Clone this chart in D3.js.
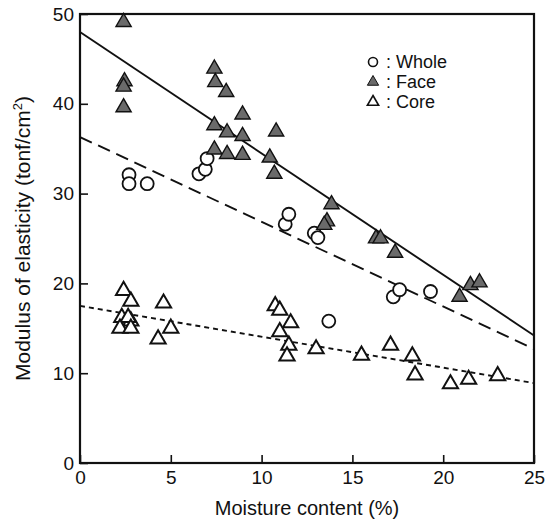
<!DOCTYPE html>
<html>
<head>
<meta charset="utf-8">
<script src="https://cdn.jsdelivr.net/npm/d3@7"></script>
<style>
  body { margin: 0; background: #fff; }
  svg text { font-family: "Liberation Sans", Arial, Helvetica, sans-serif; fill: #111; }
</style>
</head>
<body>
<svg id="chart" width="546" height="525"></svg>
<script>
// values: [moisture %, modulus tonf/cm2]
const wholePts = [
  [2.7, 32.1], [2.7, 31.1], [3.7, 31.1],
  [6.55, 32.2], [6.9, 32.7], [7.0, 33.9],
  [11.3, 26.6], [11.5, 27.7], [12.9, 25.6], [13.1, 25.1],
  [13.7, 15.8], [17.25, 18.5], [17.6, 19.3], [19.3, 19.1]
];
const facePts = [
  [2.4, 49.1], [2.45, 42.5], [2.4, 41.9], [2.4, 39.6],
  [7.4, 43.9], [7.45, 42.4], [8.05, 41.3], [8.95, 38.8],
  [7.4, 37.6], [8.1, 36.8], [8.95, 36.4],
  [7.4, 34.9], [8.1, 34.4], [8.95, 34.3],
  [10.8, 36.9], [10.45, 34.0], [10.7, 32.2],
  [13.85, 28.8], [13.6, 26.9], [13.45, 26.5],
  [16.3, 25.0], [16.55, 25.0], [17.35, 23.4],
  [20.9, 18.5], [21.5, 19.8], [22.0, 20.1]
];
const corePts = [
  [2.4, 19.2], [2.8, 18.0], [2.3, 16.2], [2.8, 15.8], [2.65, 16.2],
  [2.2, 15.0], [2.8, 15.0], [4.6, 17.8], [4.3, 13.8], [5.0, 15.0],
  [10.75, 17.5], [11.0, 17.0], [11.6, 15.6], [11.0, 14.6], [11.5, 13.1],
  [11.4, 11.9], [13.0, 12.7], [15.5, 12.0], [17.1, 13.1], [18.3, 11.9],
  [18.45, 9.8], [20.4, 8.8], [21.4, 9.3], [23.0, 9.7]
];
// fitted lines, end points at x = 0 and x = 25
const faceLine = [[0, 48.0], [25, 14.2]];
const wholeLine = [[0, 36.3], [25, 12.7]];
const coreLine = [[0, 17.5], [25, 8.9]];

const xTicks = [0, 5, 10, 15, 20, 25];
const yTicks = [0, 10, 20, 30, 40, 50];
const legendItems = [
  { key: "whole", label: ": Whole" },
  { key: "face", label: ": Face" },
  { key: "core", label: ": Core" }
];

const svg = d3.select("#chart");
const margin = { left: 80, top: 14, right: 12, bottom: 62 };
const W = 546, H = 525;

const x = d3.scaleLinear().domain([0, 25]).range([margin.left, W - margin.right]);
const y = d3.scaleLinear().domain([0, 50]).range([H - margin.bottom, margin.top]);

// axes with inward ticks
svg.append("g")
  .attr("transform", `translate(0,${y(0)})`)
  .call(d3.axisBottom(x).tickValues(xTicks).tickSizeInner(-8).tickSizeOuter(0).tickPadding(8))
  .call(g => g.select(".domain").remove())
  .call(g => g.selectAll("line").attr("stroke", "#111").attr("stroke-width", 1.6))
  .call(g => g.selectAll("text").attr("font-size", 19).attr("fill", "#111"));

svg.append("g")
  .attr("transform", `translate(${x(0)},0)`)
  .call(d3.axisLeft(y).tickValues(yTicks).tickSizeInner(-8).tickSizeOuter(0).tickPadding(6))
  .call(g => g.select(".domain").remove())
  .call(g => g.selectAll("line").attr("stroke", "#111").attr("stroke-width", 1.6))
  .call(g => g.selectAll("text").attr("font-size", 19).attr("fill", "#111"));

// frame
svg.append("rect")
  .attr("x", x(0)).attr("y", y(50))
  .attr("width", x(25) - x(0)).attr("height", y(0) - y(50))
  .attr("fill", "none").attr("stroke", "#111").attr("stroke-width", 2.2);

// regression lines
const line = d3.line().x(d => x(d[0])).y(d => y(d[1]));
svg.append("path").attr("d", line(faceLine))
  .attr("fill", "none").attr("stroke", "#111").attr("stroke-width", 1.9);
svg.append("path").attr("d", line(wholeLine))
  .attr("fill", "none").attr("stroke", "#111").attr("stroke-width", 1.9)
  .attr("stroke-dasharray", "13,7");
svg.append("path").attr("d", line(coreLine))
  .attr("fill", "none").attr("stroke", "#111").attr("stroke-width", 1.9)
  .attr("stroke-dasharray", "5,4");

// markers
const tri = d3.symbol().type(d3.symbolTriangle).size(100);
const style = {
  whole: s => s.append("circle").attr("r", 6.5).attr("fill", "#fff").attr("stroke", "#111").attr("stroke-width", 1.8),
  face: s => s.append("path").attr("d", tri()).attr("fill", "#6a6a6a").attr("stroke", "#111").attr("stroke-width", 1.4),
  core: s => s.append("path").attr("d", tri()).attr("fill", "#fff").attr("stroke", "#111").attr("stroke-width", 2)
};

function drawPoints(pts, key) {
  const g = svg.append("g").selectAll("g").data(pts).join("g")
    .attr("transform", d => `translate(${x(d[0])},${y(d[1])})`);
  style[key](g);
}
drawPoints(corePts, "core");
drawPoints(wholePts, "whole");
drawPoints(facePts, "face");

// legend
const leg = svg.append("g").attr("transform", "translate(373,62)");
legendItems.forEach((item, i) => {
  const row = leg.append("g").attr("transform", `translate(0,${i * 20})`);
  if (item.key === "whole") {
    row.append("circle").attr("r", 4.5).attr("fill", "#fff").attr("stroke", "#111").attr("stroke-width", 1.6);
  } else {
    row.append("path").attr("d", d3.symbol().type(d3.symbolTriangle).size(55)())
      .attr("fill", item.key === "face" ? "#6a6a6a" : "#fff")
      .attr("stroke", "#111").attr("stroke-width", item.key === "face" ? 1 : 1.6);
  }
  row.append("text").attr("x", 13).attr("dy", "0.36em")
    .attr("font-size", 18).text(item.label);
});

// axis titles
svg.append("text")
  .attr("x", (x(0) + x(25)) / 2).attr("y", 515)
  .attr("text-anchor", "middle").attr("font-size", 20)
  .text("Moisture content (%)");

const yt = svg.append("text")
  .attr("transform", `translate(30,${(y(0) + y(50)) / 2}) rotate(-90)`)
  .attr("text-anchor", "middle").attr("font-size", 21);
yt.append("tspan").text("Modulus of elasticity (tonf/cm");
yt.append("tspan").attr("font-size", 13).attr("dy", -8).text("2");
yt.append("tspan").attr("dy", 8).text(")");
</script>
</body>
</html>
